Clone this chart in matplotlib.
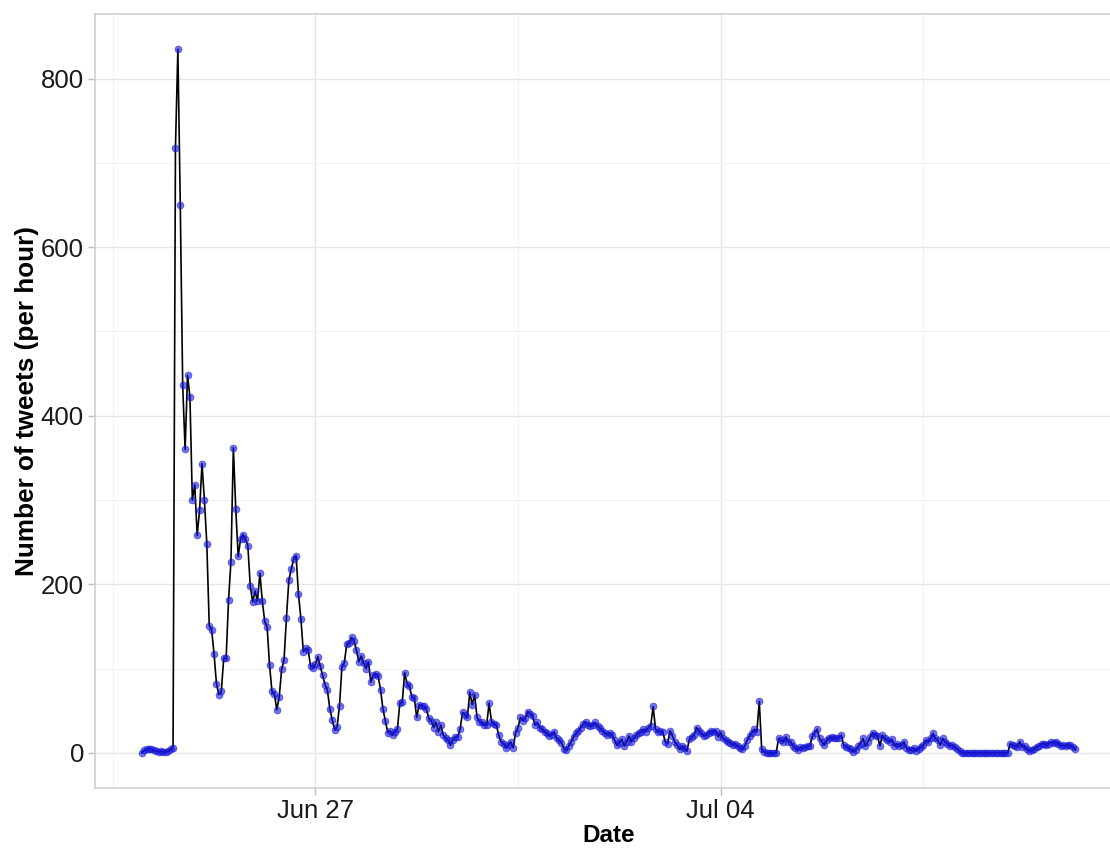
import matplotlib
matplotlib.use("Agg")
import matplotlib.pyplot as plt
import matplotlib.dates as mdates
import numpy as np
import pandas as pd

# hourly tweet counts, one list per day (starting at 00:00)
jun24 = [0, 3, 4, 5, 4, 3, 2, 1, 2, 1, 1, 2, 4, 6, 718, 835, 650, 436, 360, 448, 422, 300, 318, 258]
jun25 = [288, 343, 300, 248, 151, 146, 117, 82, 69, 73, 112, 112, 181, 227, 362, 289, 233, 254, 259, 254, 246, 198, 179, 192]
jun26 = [180, 213, 180, 156, 149, 104, 73, 70, 51, 66, 99, 110, 160, 205, 218, 230, 234, 188, 159, 120, 124, 122, 103, 101]
jun27 = [105, 114, 103, 92, 81, 74, 52, 39, 27, 31, 56, 102, 107, 129, 130, 137, 133, 122, 108, 115, 107, 100, 108, 84]
jun28 = [92, 94, 91, 75, 52, 38, 24, 26, 21, 25, 28, 59, 60, 95, 82, 79, 66, 65, 42, 57, 56, 55, 52, 41]
jun29 = [38, 30, 36, 25, 33, 21, 17, 15, 9, 15, 19, 19, 28, 48, 45, 42, 72, 57, 69, 42, 37, 36, 33, 33]
jun30 = [59, 37, 34, 33, 21, 13, 11, 6, 9, 13, 6, 24, 30, 42, 38, 41, 49, 46, 44, 33, 36, 30, 28, 25]
jul01 = [23, 20, 21, 25, 17, 15, 12, 5, 3, 8, 13, 19, 23, 26, 30, 34, 37, 33, 32, 33, 36, 32, 29, 26]
jul02 = [24, 21, 24, 21, 15, 9, 12, 16, 8, 13, 20, 13, 17, 21, 24, 25, 28, 25, 30, 32, 55, 28, 25, 26]
jul03 = [25, 13, 11, 26, 20, 13, 9, 4, 8, 6, 2, 16, 19, 21, 30, 26, 23, 20, 21, 24, 26, 25, 26, 19]
jul04 = [24, 17, 15, 13, 12, 9, 11, 8, 6, 4, 8, 15, 20, 24, 28, 25, 61, 4, 1, 0, 0, 0, 0, 0]
jul05 = [17, 15, 13, 19, 13, 13, 8, 6, 3, 7, 6, 7, 8, 8, 20, 24, 28, 17, 13, 9, 15, 18, 19, 18]
jul06 = [17, 18, 21, 9, 7, 6, 4, 1, 3, 8, 11, 17, 8, 13, 19, 24, 21, 20, 8, 21, 17, 15, 13, 16]
jul07 = [8, 11, 8, 9, 13, 6, 3, 3, 6, 2, 5, 7, 9, 15, 13, 17, 23, 17, 15, 9, 17, 13, 11, 8]
jul08 = [9, 7, 4, 2, 0, 0, 0, 0, 0, 0, 0, 0, 0, 0, 0, 0, 0, 0, 0, 0, 0, 0, 0, 0]
jul09 = [11, 9, 8, 7, 13, 7, 8, 4, 2, 3, 5, 7, 8, 11, 11, 9, 11, 13, 12, 13, 11, 8, 9, 8]
jul10 = [9, 9, 7, 4]

days = [jun24, jun25, jun26, jun27, jun28, jun29, jun30, jul01, jul02,
        jul03, jul04, jul05, jul06, jul07, jul08, jul09, jul10]
counts = np.array([v for d in days for v in d])
times = pd.date_range("2018-06-24 00:00", periods=len(counts), freq="h")

x_major = pd.to_datetime(["2018-06-27", "2018-07-04"])
x_minor = pd.to_datetime(["2018-06-23 12:00", "2018-06-30 12:00", "2018-07-07 12:00"])
y_major = [0, 200, 400, 600, 800]
y_minor = [100, 300, 500, 700]

plt.rcParams['font.family'] = ['Liberation Sans', 'DejaVu Sans']

fig = plt.figure(figsize=(11.1, 8.49), dpi=100)
ax = fig.add_axes([95 / 1110, 61 / 849, 1027 / 1110, 774 / 849])

ax.plot(times, counts, color='black', linewidth=1.2, zorder=3)
ax.plot(times, counts, linestyle='none', marker='o', markersize=5.0,
        markerfacecolor='#1515d8', markeredgecolor='#1515d8', markeredgewidth=0.5,
        alpha=0.6, zorder=4)

# ggplot-like expansion of 5%
t0 = mdates.date2num(times[0])
t1 = mdates.date2num(times[-1])
span = t1 - t0
ax.set_xlim(t0 - 0.05 * span, t1 + 0.05 * span)
ymax = counts.max()
ax.set_ylim(-0.05 * ymax, 1.05 * ymax)

ax.set_xticks(mdates.date2num(x_major))
ax.set_xticks(mdates.date2num(x_minor), minor=True)
ax.xaxis.set_major_formatter(mdates.DateFormatter("%b %d"))
ax.set_yticks(y_major)
ax.set_yticks(y_minor, minor=True)

ax.grid(which='major', color='#e6e6e6', linewidth=1.0, zorder=0)
ax.grid(which='minor', color='#f2f2f2', linewidth=0.8, zorder=0)
ax.set_axisbelow(True)

for side in ['left', 'top', 'bottom', 'right']:
    ax.spines[side].set_color('#cfcfcf')
    ax.spines[side].set_linewidth(1.2)

ax.tick_params(which='major', length=5, width=1, color='#bdbdbd',
               labelsize=18.5, labelcolor='#1a1a1a', pad=3)
ax.tick_params(which='minor', length=0)

ax.set_xlabel("Date", fontsize=17.5, fontweight='bold', labelpad=1)
ax.set_ylabel("Number of tweets (per hour)", fontsize=18.8, fontweight='bold', labelpad=1)

fig.savefig("out.png", dpi=100)
